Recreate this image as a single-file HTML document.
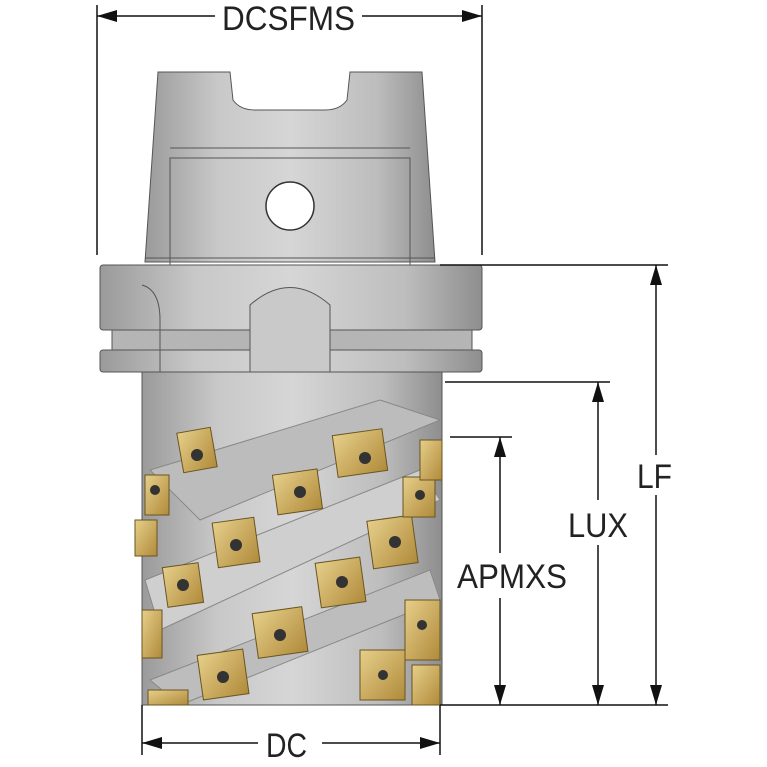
<!DOCTYPE html>
<html><head><meta charset="utf-8"><style>
html,body{margin:0;padding:0;background:#fff;}
svg{display:block;}
text{font-family:"Liberation Sans",sans-serif;font-size:34px;fill:#222;}
</style></head><body>
<svg width="767" height="767" viewBox="0 0 767 767" xmlns="http://www.w3.org/2000/svg">
<defs>
<linearGradient id="g" x1="0" x2="1" y1="0" y2="0">
<stop offset="0" stop-color="#9a9a9a"/><stop offset="0.25" stop-color="#c8c8c8"/>
<stop offset="0.5" stop-color="#d6d6d6"/><stop offset="0.8" stop-color="#bdbdbd"/><stop offset="1" stop-color="#8e8e8e"/>
</linearGradient>
<linearGradient id="gold" x1="0" x2="1" y1="0" y2="1">
<stop offset="0" stop-color="#e6cf8a"/><stop offset="1" stop-color="#b08a3a"/>
</linearGradient>
<marker id="b" viewBox="0 0 20 12" refX="20" refY="6" markerWidth="22" markerHeight="12" orient="auto-start-reverse" markerUnits="userSpaceOnUse">
<path d="M0,0 L20,6 L0,12 z" fill="#111"/></marker>
</defs>
<g stroke="#555" stroke-width="1">
<path d="M158,72 L230,72 L233,100 Q240,110 255,110 L325,110 Q340,110 347,100 L350,72 L422,72 L435,262 L145,262 Z" fill="url(#g)"/>
<line x1="170" y1="148" x2="410" y2="148"/>
<rect x="170" y="158" width="240" height="108" fill="none"/>
<line x1="145" y1="258" x2="435" y2="258"/>
<circle cx="290" cy="206" r="24" fill="#fff" stroke="#333" stroke-width="1.5"/>
<rect x="100" y="265" width="382" height="65" rx="3" fill="url(#g)"/>
<rect x="112" y="330" width="360" height="20" fill="#b5b5b5"/>
<rect x="100" y="350" width="382" height="22" rx="3" fill="url(#g)"/>
<path d="M250,372 L250,305 Q290,270 330,305 L330,372" fill="#c9c9c9"/>
<path d="M142,285 Q160,290 160,320 L160,372" fill="none"/>
<path d="M142,372 L442,372 L442,705 L142,705 Z" fill="url(#g)"/>
<path d="M150,470 L380,400 L440,420 L200,520 Z" fill="#bcbcbc" stroke="#888"/>
<path d="M145,580 L420,470 L440,500 L160,630 Z" fill="#cfcfcf" stroke="#888"/>
<path d="M150,680 L430,570 L440,600 L180,705 Z" fill="#bdbdbd" stroke="#888"/>
</g>
<g fill="url(#gold)" stroke="#6a5420" stroke-width="1">
<rect x="180" y="430" width="34" height="40" transform="rotate(-10 197 450)"/>
<rect x="145" y="475" width="24" height="40"/>
<rect x="275" y="472" width="45" height="40" transform="rotate(-8 297 492)"/>
<rect x="335" y="432" width="50" height="42" transform="rotate(-8 360 453)"/>
<rect x="215" y="520" width="42" height="45" transform="rotate(-8 236 542)"/>
<rect x="135" y="520" width="22" height="36"/>
<rect x="165" y="565" width="36" height="40" transform="rotate(-8 183 585)"/>
<rect x="318" y="560" width="45" height="45" transform="rotate(-8 340 582)"/>
<rect x="370" y="518" width="45" height="48" transform="rotate(-8 392 542)"/>
<rect x="403" y="477" width="32" height="40"/>
<rect x="420" y="440" width="22" height="40"/>
<rect x="255" y="610" width="50" height="45" transform="rotate(-8 280 632)"/>
<rect x="142" y="610" width="20" height="48"/>
<rect x="405" y="600" width="35" height="60"/>
<rect x="200" y="652" width="46" height="45" transform="rotate(-8 223 674)"/>
<rect x="360" y="650" width="45" height="50"/>
<rect x="148" y="690" width="40" height="15"/>
<rect x="412" y="665" width="28" height="40"/>
</g>
<g fill="#333">
<circle cx="197" cy="455" r="6"/><circle cx="300" cy="492" r="6"/><circle cx="365" cy="458" r="6"/>
<circle cx="236" cy="545" r="6"/><circle cx="183" cy="585" r="6"/><circle cx="342" cy="582" r="6"/>
<circle cx="395" cy="542" r="6"/><circle cx="280" cy="635" r="6"/><circle cx="223" cy="677" r="6"/>
<circle cx="155" cy="490" r="5"/><circle cx="420" cy="495" r="5"/><circle cx="422" cy="625" r="5"/><circle cx="383" cy="675" r="5"/>
</g>
<g stroke="#111" stroke-width="1.5" fill="none">
<line x1="97" y1="5" x2="97" y2="255"/>
<line x1="482" y1="5" x2="482" y2="255"/>
<line x1="97" y1="16" x2="215" y2="16" marker-start="url(#b)"/>
<line x1="362" y1="16" x2="482" y2="16" marker-end="url(#b)"/>
<line x1="440" y1="265" x2="668" y2="265"/>
<line x1="445" y1="382" x2="610" y2="382"/>
<line x1="450" y1="437" x2="512" y2="437"/>
<line x1="440" y1="705" x2="668" y2="705"/>
<line x1="656" y1="265" x2="656" y2="455" marker-start="url(#b)"/>
<line x1="656" y1="495" x2="656" y2="705" marker-end="url(#b)"/>
<line x1="598" y1="382" x2="598" y2="500" marker-start="url(#b)"/>
<line x1="598" y1="545" x2="598" y2="705" marker-end="url(#b)"/>
<line x1="500" y1="437" x2="500" y2="553" marker-start="url(#b)"/>
<line x1="500" y1="598" x2="500" y2="705" marker-end="url(#b)"/>
<line x1="142" y1="705" x2="142" y2="755"/>
<line x1="440" y1="705" x2="440" y2="755"/>
<line x1="142" y1="743" x2="258" y2="743" marker-start="url(#b)"/>
<line x1="322" y1="743" x2="440" y2="743" marker-end="url(#b)"/>
</g>
<text x="222" y="30" textLength="133" lengthAdjust="spacingAndGlyphs">DCSFMS</text>
<text x="637" y="488" textLength="35" lengthAdjust="spacingAndGlyphs">LF</text>
<text x="568" y="537" textLength="60" lengthAdjust="spacingAndGlyphs">LUX</text>
<text x="457" y="588" textLength="110" lengthAdjust="spacingAndGlyphs">APMXS</text>
<text x="266" y="757" textLength="41" lengthAdjust="spacingAndGlyphs">DC</text>
</svg>
</body></html>
